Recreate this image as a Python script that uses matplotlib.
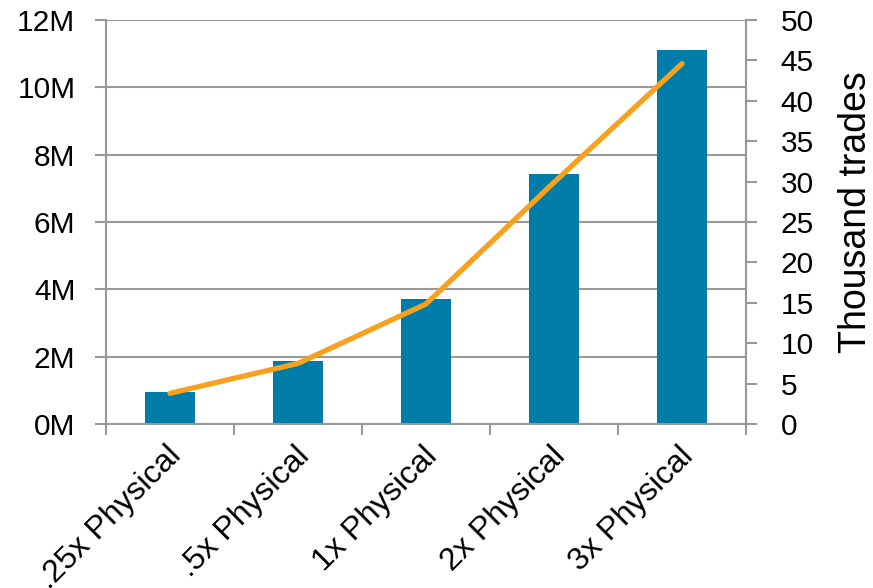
import matplotlib
matplotlib.use('Agg')
import matplotlib.pyplot as plt
import numpy as np

plt.rcParams['font.family'] = ['Liberation Sans', 'DejaVu Sans']

# scenario categories and measured values
categories = ['.25x Physical', '.5x Physical', '1x Physical', '2x Physical', '3x Physical']
volume_m = [0.94, 1.87, 3.71, 7.42, 11.12]      # left axis, millions
trades_k = [3.8, 7.5, 14.85, 29.9, 44.6]        # right axis, thousand trades
left_ticks = [0, 2, 4, 6, 8, 10, 12]
right_ticks = [0, 5, 10, 15, 20, 25, 30, 35, 40, 45, 50]

grey = '#999999'
fs = 21.5

fig = plt.figure(figsize=(8.73, 5.88), dpi=100)
ax = fig.add_axes([106 / 873, 1 - 424 / 588, 640 / 873, 404 / 588])
x = np.arange(len(categories))

ax.bar(x, volume_m, width=0.39, color='#007CA8', zorder=2)
ax.set_xlim(-0.5, len(categories) - 0.5)
ax.set_ylim(0, 12)
ax.set_yticks(left_ticks)
ax.set_yticklabels([f'{v}M' for v in left_ticks], fontsize=fs)
ax.yaxis.grid(True, color=grey, linewidth=1.5, zorder=0)
ax.set_axisbelow(True)

# category ticks sit on the boundaries between bars
ax.set_xticks(np.arange(len(categories) + 1) - 0.5)
ax.set_xticklabels([])
ax.tick_params(axis='x', length=8, width=1.5, color=grey, direction='out')
ax.tick_params(axis='y', length=8, width=1.5, color=grey, direction='out', pad=14)
for i, name in enumerate(categories):
    ax.text(i - 0.03, -0.5, name, rotation=45, ha='right', va='top',
            rotation_mode='anchor', fontsize=23, transform=ax.transData)

for side in ['left', 'bottom', 'right']:
    ax.spines[side].set_color(grey)
    ax.spines[side].set_linewidth(1.5)
ax.spines['top'].set_visible(False)

ax2 = ax.twinx()
ax2.plot(x, trades_k, color='#F7A11F', linewidth=3.8, solid_capstyle='round',
         solid_joinstyle='round', zorder=3)
ax2.set_ylim(0, 50)
ax2.set_yticks(right_ticks)
ax2.set_yticklabels([str(v) for v in right_ticks], fontsize=fs)
ax2.tick_params(axis='y', length=8, width=1.5, color=grey, direction='out', pad=17)
for side in ['left', 'top', 'bottom']:
    ax2.spines[side].set_visible(False)
ax2.spines['right'].set_color(grey)
ax2.spines['right'].set_linewidth(1.5)

fig.text(856 / 873, 1 - 212 / 588, 'Thousand trades', rotation=90,
         ha='center', va='center', fontsize=27)

fig.savefig('out.png', dpi=100)
